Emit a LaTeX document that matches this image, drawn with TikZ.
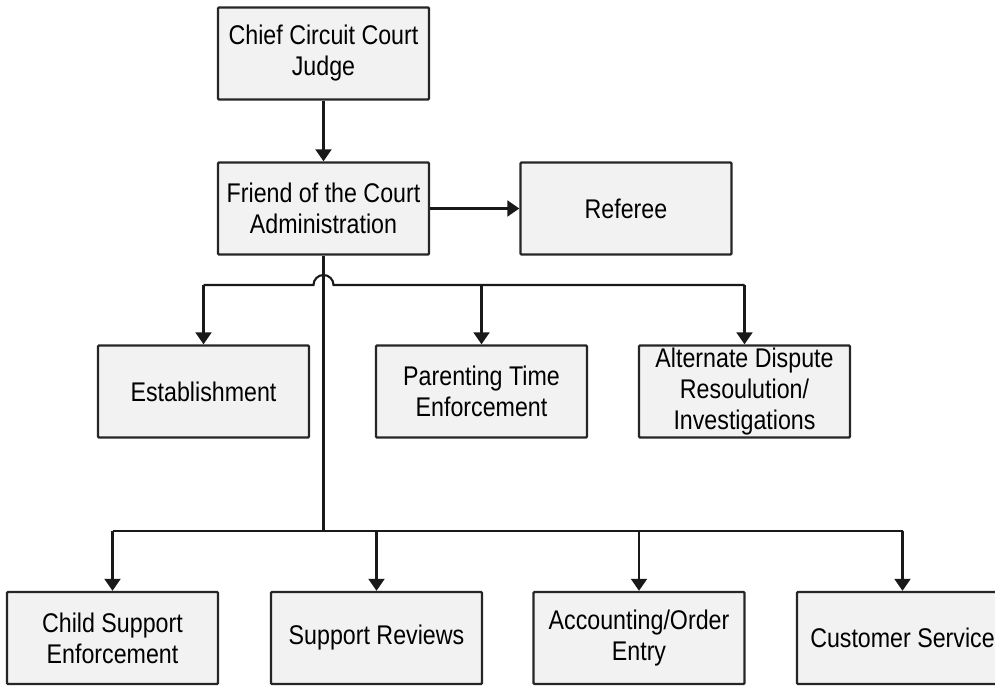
\documentclass[tikz,border=0pt]{standalone}
\usepackage{fontspec}
\setmainfont[FakeStretch=0.86]{Liberation Sans}
\usetikzlibrary{arrows.meta}

\tikzset{
    unit/.style={draw=black!85, line width=2.4pt, fill=black!5, rounded corners=1pt,
        minimum width=211pt, minimum height=92pt, inner sep=0pt, align=center,
        font=\fontsize{27}{31}\selectfont},
    link/.style={draw=black!90, line width=2.1pt},
    arrow/.style={link, -{Triangle[width=16pt,length=12pt]}}
}

\begin{document}
\begin{tikzpicture}[x=1pt, y=1pt]
            \useasboundingbox (0, 0) rectangle (995, 685);

            \node[unit] (judge) at (323.5, 631.5) {Chief Circuit Court\\Judge};
            \node[unit] (foc) at (323.5, 476.5) {Friend of the Court\\Administration};
            \node[unit] (ref) at (626, 476.5) {Referee};

            \node[unit] (est) at (203.5, 293.5) {Establishment};
            \node[unit] (pte) at (481.5, 293.5) {Parenting Time\\Enforcement};
            \node[unit] (adr) at (744.5, 293.5) {Alternate Dispute\\Resoulution/\\Investigations};

            \node[unit] (cse) at (112.5, 47) {Child Support\\Enforcement};
            \node[unit] (sr) at (376.5, 47) {Support Reviews};
            \node[unit] (acc) at (639, 47) {Accounting/Order\\Entry};
            \node[unit] (cs) at (902.5, 47) {Customer Service};

            \coordinate (upbus) at (323.5, 400);
            \coordinate (lowbus) at (323.5, 154);

            \draw[arrow] (judge) -- (foc);
            \draw[arrow] (foc) -- (ref);

            \draw[link] (est.north |- upbus) -- ([xshift=-10pt]upbus)
                arc[start angle=180, end angle=0, radius=10pt] -- (adr.north |- upbus);
            \foreach \n in {est, pte, adr}{
                \draw[arrow] (\n.north |- upbus) -- (\n.north);
            }

            \draw[link] (foc.south) -- (lowbus);
            \draw[link] (cse.north |- lowbus) -- (cs.north |- lowbus);
            \foreach \n in {cse, sr, acc, cs}{
                \draw[arrow] (\n.north |- lowbus) -- (\n.north);
            }

        \end{tikzpicture}
\end{document}
